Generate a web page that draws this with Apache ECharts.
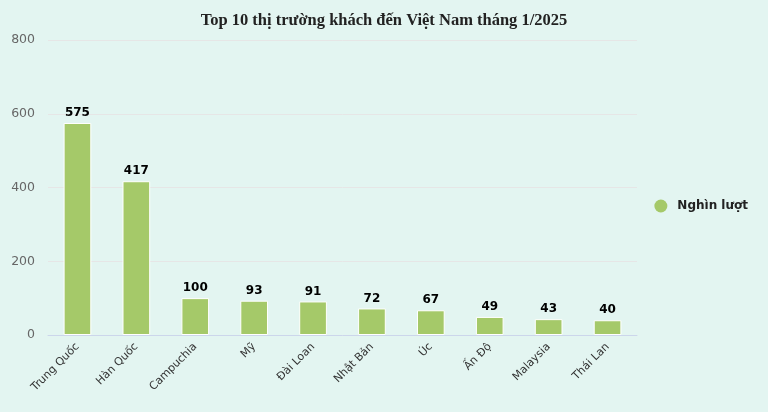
<!DOCTYPE html>
<html>
<head>
<meta charset="utf-8">
<script src="https://cdn.jsdelivr.net/npm/echarts@6/dist/echarts.min.js"></script>
<style>
  html, body { margin: 0; padding: 0; background: #e3f5f1; }
  #chart { width: 768px; height: 412px; }
</style>
</head>
<body>
<div id="chart"></div>
<script>
const categories = ["Trung Quốc", "Hàn Quốc", "Campuchia", "Mỹ", "Đài Loan", "Nhật Bản", "Úc", "Ấn Độ", "Malaysia", "Thái Lan"];
const visitors = [575, 417, 100, 93, 91, 72, 67, 49, 43, 40];
const yTicks = [0, 200, 400, 600, 800];

const myChart = echarts.init(document.getElementById("chart"));
myChart.setOption({
  backgroundColor: "#e3f5f1",
  title: {
    text: "Top 10 thị trường khách đến Việt Nam tháng 1/2025",
    left: "center",
    top: 7,
    textStyle: {
      fontFamily: "Liberation Serif",
      fontSize: 16.5,
      fontWeight: "bold",
      color: "#222"
    }
  },
  legend: {
    orient: "vertical",
    right: 15,
    top: "middle",
    icon: "circle",
    itemWidth: 13,
    itemHeight: 13,
    itemStyle: { borderWidth: 0 },
    textStyle: { fontFamily: "DejaVu Sans", fontSize: 12, fontWeight: "bold", color: "#222", padding: [0, 0, 0, 5] },
    data: ["Nghìn lượt"]
  },
  grid: { left: 48, right: 131, top: 40, bottom: 77 },
  xAxis: {
    type: "category",
    data: categories,
    axisTick: { show: false },
    axisLine: { lineStyle: { color: "#ccd6eb", width: 1 } },
    axisLabel: {
      rotate: 45,
      interval: 0,
      fontFamily: "DejaVu Sans",
      fontSize: 11,
      color: "#333",
      margin: 10
    }
  },
  yAxis: {
    type: "value",
    min: yTicks[0],
    max: yTicks[yTicks.length - 1],
    interval: 200,
    axisLabel: { fontFamily: "DejaVu Sans", fontSize: 12.5, color: "#666", margin: 13 },
    splitLine: { lineStyle: { color: "#e6e6e6" } }
  },
  series: [
    {
      name: "Nghìn lượt",
      type: "bar",
      data: visitors,
      barWidth: "47%",
      itemStyle: { color: "#a5c969", borderColor: "#ffffff", borderWidth: 1 },
      label: {
        show: true,
        position: "top",
        distance: 4,
        fontFamily: "DejaVu Sans",
        fontSize: 12,
        fontWeight: "bold",
        color: "#000"
      }
    }
  ]
});
</script>
</body>
</html>
